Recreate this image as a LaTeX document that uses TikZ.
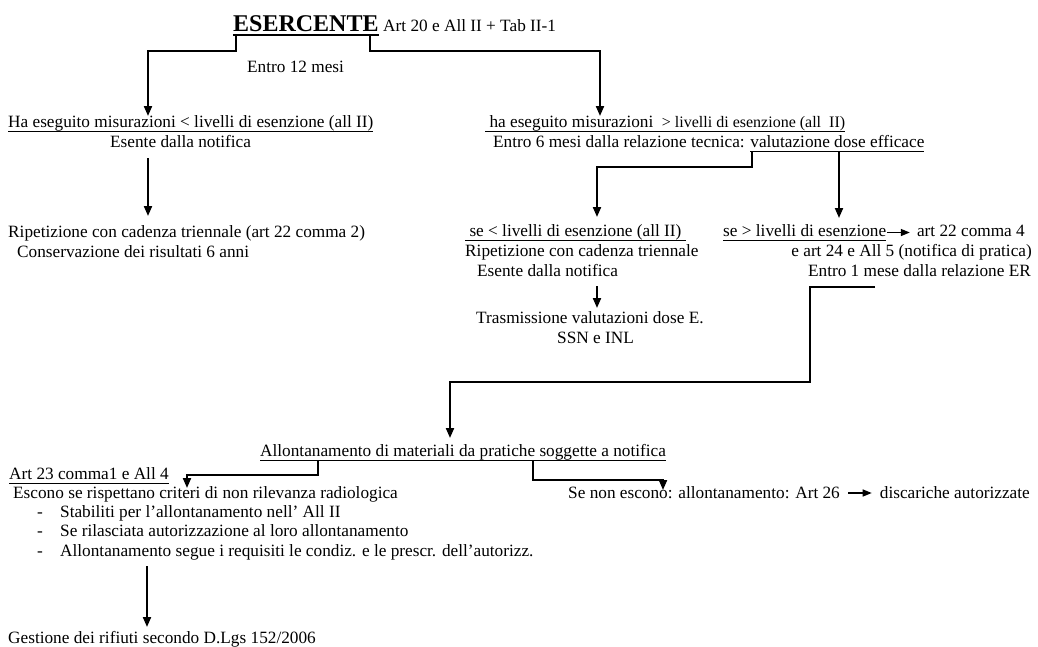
\documentclass[tikz,border=0pt]{standalone}
\usepackage{fontspec}
\setmainfont{Liberation Serif}
\usetikzlibrary{arrows.meta,calc}
\newcommand{\myul}[1]{\setbox0\hbox{#1}\rlap{\vrule height -3.8pt depth 5pt width \wd0}\box0}
\newcommand{\myulthick}[1]{\setbox0\hbox{#1}\rlap{\vrule height -2.6pt depth 5.2pt width \wd0}\box0}
\newcommand{\sm}{\fontsize{16}{20}\selectfont}
\tikzset{
  txt/.style={anchor=base west, inner sep=0pt, font=\fontsize{17.25}{20}\selectfont},
  txtr/.style={txt, anchor=base east},
  conn/.style={line width=2pt, -{Triangle[length=10pt,width=8pt]}},
  smallarrow/.style={line width=1.3pt, -{Triangle[length=9pt,width=7pt]}},
}
\begin{document}
\begin{tikzpicture}[x=1pt,y=-1pt]
\fill[white] (0,0) rectangle (1038,646);
\useasboundingbox (0,0) rectangle (1038,646);

% top
\node[txt, font=\fontsize{24}{26}\selectfont\bfseries] (esc) at (233,31) {\myulthick{ESERCENTE}};
\node[txt] (art20) at (383,31) {Art 20 e All II + Tab II-1};
\node[txt] (entro12) at (247,72) {Entro 12 mesi};

% left branch
\node[txt] (haL) at (8,127) {\myul{Ha eseguito misurazioni < livelli di esenzione (all II)}};
\node[txt] (esL) at (110,147) {Esente dalla notifica};
\node[txt] (ripL) at (8,237) {Ripetizione con cadenza triennale (art 22 comma 2)};
\node[txt] (consL) at (17,257) {Conservazione dei risultati 6 anni};

% right branch
\node[txt] (haR) at (485,127) {\myul{\ ha eseguito misurazioni \ {\sm > livelli di esenzione (all \ II)}}};
\node[txt] (entro6) at (493,147) {Entro 6 mesi dalla relazione tecnica: \myul{valutazione dose efficace}};
\node[txt] (seLow) at (465,236) {\myul{\ se < livelli di esenzione (all II)\ }};
\node[txt] (ripR) at (465,256) {Ripetizione con cadenza triennale};
\node[txt] (esR) at (477,276) {Esente dalla notifica};
\node[txt] (trasm) at (476,323) {Trasmissione valutazioni dose E.};
\node[txt] (ssn) at (557,343) {SSN e INL};
\node[txt] (seHigh) at (723,236) {\myul{se > livelli di esenzione}};
\node[txtr] (art22) at (1025,236) {art 22 comma 4};
\node[txtr] (art24) at (1032,256) {e art 24 e All 5 (notifica di pratica)};
\node[txtr] (entro1) at (1031,276) {Entro 1 mese dalla relazione ER};

% bottom
\node[txt] (allont) at (260,456) {\myul{Allontanamento di materiali da pratiche soggette a notifica}};
\node[txt] (art23) at (9,479) {\myul{Art 23 comma1 e All 4}};
\node[txt] (escono) at (13,498) {Escono se rispettano criteri di non rilevanza radiologica};
\node[txt] (d1) at (37,517) {-};
\node[txt] (i1) at (60,517) {Stabiliti per l’allontanamento nell’ All II};
\node[txt] (d2) at (37,536.5) {-};
\node[txt] (i2) at (60,536.5) {Se rilasciata autorizzazione al loro allontanamento};
\node[txt] (d3) at (37,556) {-};
\node[txt] (i3) at (60,556) {Allontanamento segue i requisiti le condiz. e le prescr. dell’autorizz.};
\node[txt] (gest) at (8,643) {Gestione dei rifiuti secondo D.Lgs 152/2006};
\node[txt] (senon) at (568,498) {Se non escono: allontanamento: Art 26};
\node[txtr] (disc) at (1030,498) {discariche autorizzate};

% connector points
\coordinate (c1s) at (236,35);
\coordinate (c1e) at (148,116);
\coordinate (c2s) at (370,35);
\coordinate (c2e) at (600,116);
\coordinate (c3s) at (148,158);
\coordinate (c3e) at (148,216);
\coordinate (c4s) at (752,152);
\coordinate (c4e) at (597,217);
\coordinate (c5s) at (839,152);
\coordinate (c5e) at (839,218);
\coordinate (c6s) at (597,286);
\coordinate (c6e) at (597,308);
\coordinate (c8s) at (875,287);
\coordinate (c8a) at (810,382);
\coordinate (c8e) at (450,438);
\coordinate (c9s) at (318,460);
\coordinate (c9e) at (187,488);
\coordinate (c10s) at (533,460);
\coordinate (c10e) at (663,490);
\coordinate (c11s) at (147,566);
\coordinate (c11e) at (147,627);

\draw[conn] (c1s) -- ++(0,16) -| (c1e);
\draw[conn] (c2s) -- ++(0,16) -| (c2e);
\draw[conn] (c3s) -- (c3e);
\draw[conn] (c4s) -- ++(0,15) -| (c4e);
\draw[conn] (c5s) -- (c5e);
\draw[conn] (c6s) -- (c6e);
\draw[conn] (c8s) -| (c8a) -| (c8e);
\draw[conn] (c9s) -- ++(0,15) -| (c9e);
\draw[conn] (c10s) -- ++(0,20) -| (c10e);
\draw[conn] (c11s) -- (c11e);
\draw[smallarrow] ($(seHigh.base east)+(1,-3.5)$) -- ($(art22.base west)+(-7,-3.5)$);
\draw[smallarrow] ($(senon.base east)+(8,-5)$) -- ($(disc.base west)+(-8,-5)$);
\end{tikzpicture}
\end{document}
